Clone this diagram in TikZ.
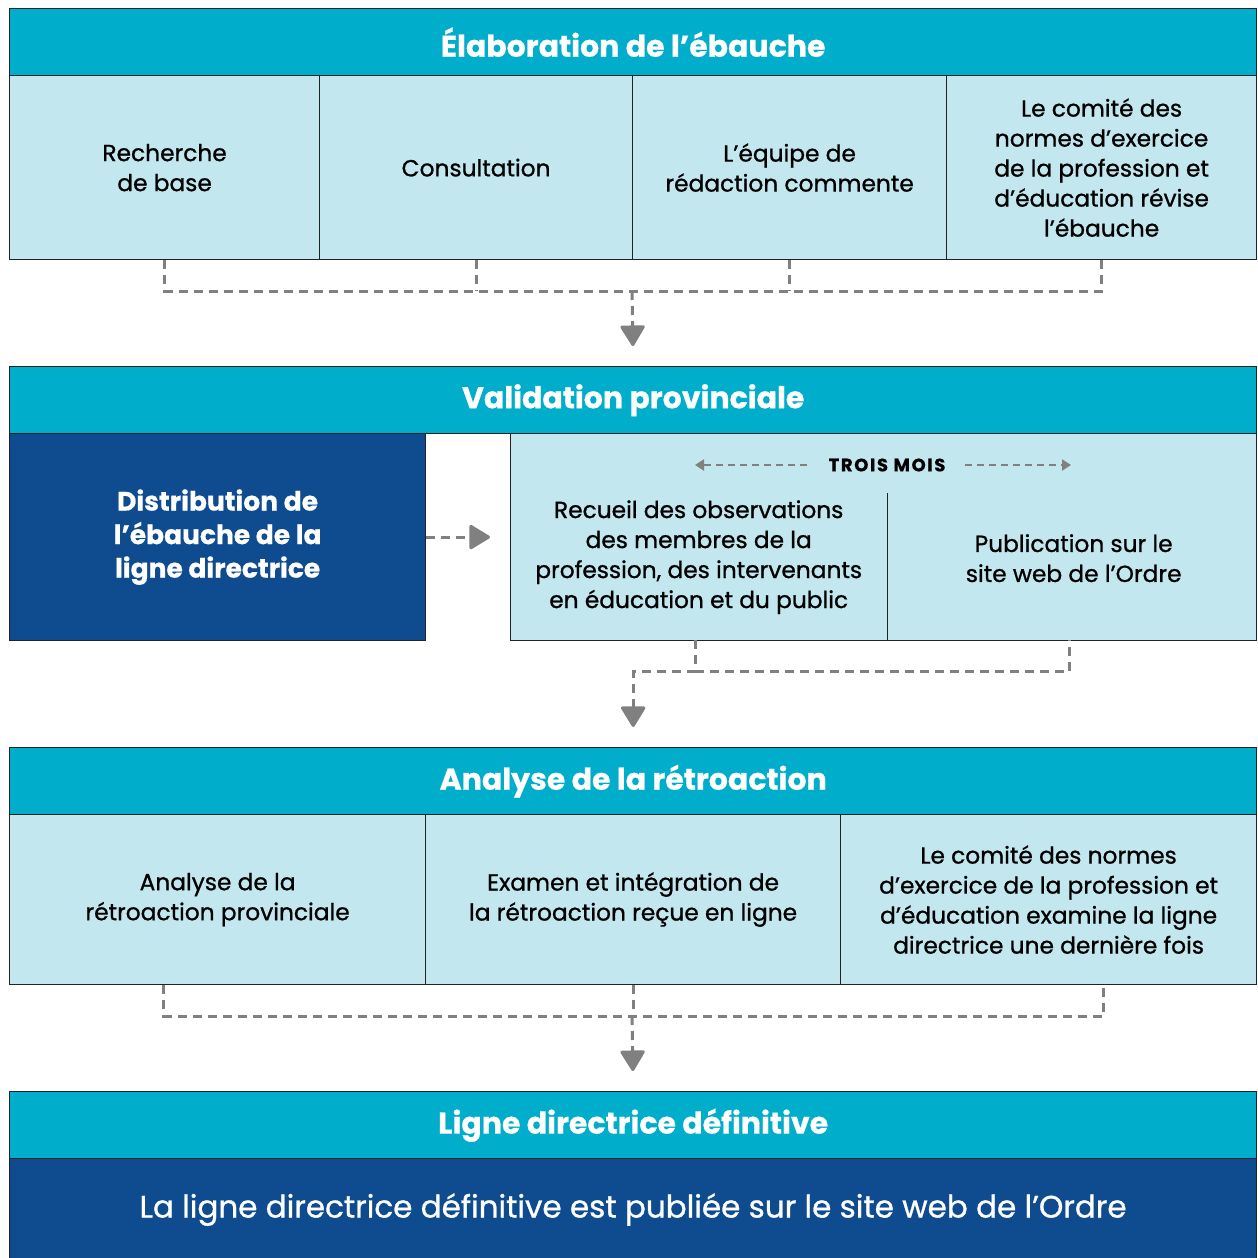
\documentclass[tikz,border=0pt]{standalone}
\usepackage{fontspec}
\setmainfont{Poppins}[FakeBold=0.6]
\newfontfamily\medfont{Poppins}[FakeBold=0.9]
\usetikzlibrary{arrows.meta,calc}
\definecolor{hdr}{HTML}{00AECB}
\definecolor{lite}{HTML}{C2E7EE}
\definecolor{navy}{HTML}{0F4C8F}
\definecolor{dgray}{HTML}{808080}
\definecolor{edge}{HTML}{222222}
\tikzset{
  header/.style={draw=edge,line width=1.4pt,fill=hdr,text=white,font=\fontsize{30}{34}\selectfont\bfseries,anchor=north west,inner sep=0pt,minimum width=1247pt,minimum height=67pt},
  bodytext/.style={font=\fontsize{23.3}{30}\medfont},
  cell/.style={draw=edge,line width=1.2pt,fill=lite,text=black,bodytext,anchor=north west,inner sep=0pt,align=center},
  darkcell/.style={draw=edge,line width=1.2pt,fill=navy,text=white,anchor=north west,inner sep=0pt,align=center},
  flow/.style={draw=dgray,line width=3pt,dash pattern=on 9pt off 6pt},
  flowtip/.style={-{Triangle[width=26pt,length=22pt,round]}},
  span/.style={draw=dgray,line width=2pt,dash pattern=on 7pt off 5pt,-{Triangle[width=11pt,length=9pt]}},
}
\begin{document}
\begin{tikzpicture}[x=1pt,y=-1pt]
\useasboundingbox (0,0) rectangle (1258,1258);
% Section 1
\node[header] (h1) at (9,8) {Élaboration de l’ébauche};
\node[cell,minimum width=310pt,minimum height=184pt] (c11) at (9,75) {Recherche\\de base};
\node[cell,minimum width=313pt,minimum height=184pt] (c12) at (319,75) {Consultation};
\node[cell,minimum width=314pt,minimum height=184pt] (c13) at (632,75) {L’équipe de\\rédaction commente};
\node[cell,minimum width=310pt,minimum height=184pt] (c14) at (946,75) {Le comité des\\normes d’exercice\\de la profession et\\d’éducation révise\\l’ébauche};
% Section 2
\node[header] (h2) at (9,366) {Validation provinciale};
\node[darkcell,minimum width=416pt,minimum height=207pt,font=\fontsize{26.5}{33.5}\selectfont\bfseries] (d2) at (9,433) {Distribution de\\l’ébauche de la\\ligne directrice};
\node[cell,minimum width=746pt,minimum height=207pt] (l2) at (510,433) {};
\node[inner sep=0pt,minimum width=377pt,minimum height=147pt,anchor=north west] (l2a) at (510,493) {};
\node[inner sep=0pt,minimum width=369pt,minimum height=147pt,anchor=north west] (l2b) at (887,493) {};
\node[bodytext,align=center,inner sep=0pt] (t2a) at ([yshift=9.5pt]l2a.center) {Recueil des observations\\des membres de la\\profession, des intervenants\\en éducation et du public};
\node[bodytext,align=center,inner sep=0pt] (t2b) at ([xshift=2pt,yshift=8.5pt]l2b.center) {Publication sur le\\site web de l’Ordre};
\draw[edge,line width=1.2pt] (l2a.north east) -- (l2a.south east);
\node[font=\fontsize{18}{18}\selectfont\bfseries\addfontfeatures{LetterSpace=9}, inner sep=0pt] (tm) at (887,465) {TROIS MOIS};
\coordinate (tml) at (695,465);
\coordinate (tmr) at (1071,465);
\draw[span] ([xshift=-80pt]tm.center) -- (tml);
\draw[span] ([xshift=78pt]tm.center) -- (tmr);
\draw[flow,-{Triangle[width=26pt,length=22pt,round]}] (d2.east) -- ([xshift=-20pt]l2.west);
% Section 3
\node[header] (h3) at (9,747) {Analyse de la rétroaction};
\node[cell,minimum width=416pt,minimum height=170pt] (c31) at (9,814) {Analyse de la\\rétroaction provinciale};
\node[cell,minimum width=415pt,minimum height=170pt] (c32) at (425,814) {Examen et intégration de\\la rétroaction reçue en ligne};
\node[cell,minimum width=416pt,minimum height=170pt] (c33) at (840,814) {Le comité des normes\\d’exercice de la profession et\\d’éducation examine la ligne\\directrice une dernière fois};
% Section 4
\node[header] (h4) at (9,1091) {Ligne directrice définitive};
\node[darkcell,minimum width=1247pt,minimum height=102pt,font=\fontsize{31}{34}\medfont] (d4) at (9,1158) {La ligne directrice définitive est publiée sur le site web de l’Ordre};
% connectors 1 -> 2
\coordinate (j1) at (632,291);
\draw[flow] (c11.south) |- (c14.south |- j1) -- (c14.south);
\draw[flow] (c12.south) -- (c12.south |- j1);
\draw[flow] (c13.south) -- (c13.south |- j1);
\draw[flow,flowtip,shorten >=20pt] (j1) -- (h2.north);
% connectors 2 -> 3
\coordinate (j2) at (632,671);
\draw[flow] ([xshift=-3pt]l2a.south) |- ([xshift=-2pt]l2b.south |- j2) -- ([xshift=-2pt]l2b.south);
\draw[flow,flowtip,shorten >=20pt] ([xshift=-3pt]l2a.south |- j2) -| (h3.north);
% connectors 3 -> 4
\coordinate (j3) at (632,1016);
\draw[flow] ([xshift=-54pt]c31.south) |- ([xshift=55pt]c33.south |- j3) -- ([xshift=55pt]c33.south);
\draw[flow] (c32.south) -- (c32.south |- j3);
\draw[flow,flowtip,shorten >=20pt] (j3) -- (h4.north);
\end{tikzpicture}
\end{document}
